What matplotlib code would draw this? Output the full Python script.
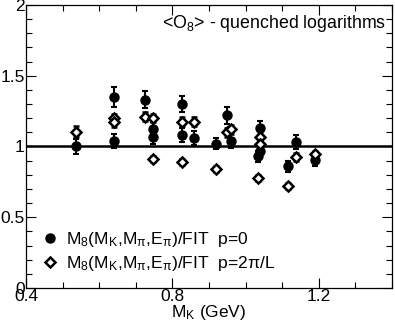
import numpy as np
import matplotlib
matplotlib.use('Agg')
import matplotlib.pyplot as plt
from matplotlib.lines import Line2D
from matplotlib.ticker import MultipleLocator

plt.rcParams['font.family'] = ['Liberation Sans', 'DejaVu Sans']
plt.rcParams['mathtext.fontset'] = 'custom'
plt.rcParams['mathtext.rm'] = 'Liberation Sans'
plt.rcParams['mathtext.it'] = 'Liberation Sans'

# p=0 data (filled circles)
mk_p0 = [0.537, 0.640, 0.640, 0.725, 0.746, 0.746, 0.825, 0.825, 0.859,
         0.919, 0.950, 0.959, 1.039, 1.039, 1.035, 1.115, 1.139, 1.190]
r_p0 = [1.00, 1.35, 1.04, 1.33, 1.12, 1.07, 1.30, 1.08, 1.06,
        1.02, 1.22, 1.04, 1.13, 0.97, 0.93, 0.86, 1.03, 0.905]
err_p0 = [0.05, 0.07, 0.05, 0.06, 0.05, 0.05, 0.06, 0.05, 0.05,
          0.04, 0.06, 0.05, 0.05, 0.04, 0.04, 0.04, 0.05, 0.04]

# p=2pi/L data (open diamonds)
mk_p2 = [0.537, 0.640, 0.640, 0.725, 0.746, 0.746, 0.825, 0.825, 0.859,
         0.919, 0.950, 0.959, 1.039, 1.039, 1.035, 1.115, 1.139, 1.190]
r_p2 = [1.105, 1.20, 1.17, 1.21, 1.20, 0.91, 1.175, 0.89, 1.175,
        0.84, 1.10, 1.12, 1.07, 1.02, 0.775, 0.72, 0.925, 0.945]
err_p2 = [0.04, 0.03, 0.03, 0.03, 0.03, 0.02, 0.03, 0.02, 0.03,
          0.02, 0.03, 0.03, 0.03, 0.03, 0.02, 0.02, 0.03, 0.02]

lab_p0 = r'M$_8$(M$_K$,M$_\pi$,E$_\pi$)/FIT  p=0'
lab_p2 = r'M$_8$(M$_K$,M$_\pi$,E$_\pi$)/FIT  p=2$\pi$/L'

fig = plt.figure(figsize=(3.95, 3.28), dpi=100)
ax = fig.add_axes([0.066, 0.122, 0.926, 0.863])

ax.axhline(1.0, color='black', lw=1.8, zorder=1)

ax.errorbar(mk_p0, r_p0, yerr=err_p0, fmt='o', color='black', ms=6.5,
            elinewidth=1.5, capsize=2, capthick=1.5, zorder=3)
ax.errorbar(mk_p2, r_p2, yerr=err_p2, fmt='D', color='black', mfc='white',
            mec='black', mew=1.8, ms=5.5, elinewidth=1.5, capsize=2,
            capthick=1.5, zorder=4)

ax.set_xlim(0.4, 1.4)
ax.set_ylim(0, 2)
ax.xaxis.set_minor_locator(MultipleLocator(0.1))
ax.yaxis.set_minor_locator(MultipleLocator(0.1))
ax.set_xticks([0.4, 0.8, 1.2])
ax.set_xticklabels(['0.4', '0.8', '1.2'])
ax.set_yticks([0, 0.5, 1, 1.5, 2])
ax.set_yticklabels(['0', '0.5', '1', '1.5', '2'])
ax.tick_params(which='both', direction='in', top=True, right=True,
               labelsize=12.5, pad=1)
ax.tick_params(which='major', length=7, width=0.8)
ax.tick_params(which='minor', length=4, width=0.8)
for s in ax.spines.values():
    s.set_linewidth(0.9)

ax.set_xlabel(r'M$_K$ (GeV)', fontsize=12.5, labelpad=-1)

ax.text(0.985, 0.935, r'<O$_8$> - quenched logarithms', transform=ax.transAxes,
        ha='right', va='center', fontsize=12.8)

handles = [
    Line2D([0], [0], marker='o', ls='none', color='black', ms=6.5, label=lab_p0),
    Line2D([0], [0], marker='D', ls='none', mfc='white', mec='black', mew=1.8,
           ms=5.5, label=lab_p2),
]
ax.legend(handles=handles, loc='lower left', bbox_to_anchor=(0.0, 0.015),
          frameon=False, fontsize=12.6, handletextpad=0.2, handlelength=1.5,
          labelspacing=0.3, borderaxespad=0.2)

fig.savefig('out.png', dpi=100)
